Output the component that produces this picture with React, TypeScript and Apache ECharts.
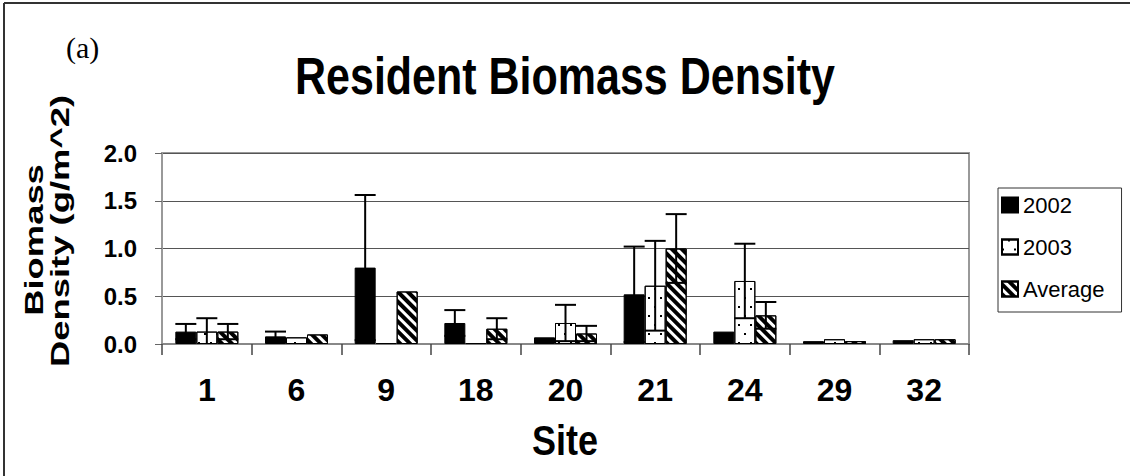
import React, { useEffect, useRef } from "react";
import * as echarts from "echarts";

const sites = ["1", "6", "9", "18", "20", "21", "24", "29", "32"];
const seriesNames = ["2002", "2003", "Average"];
const values2002 = [0.13, 0.08, 0.8, 0.22, 0.07, 0.52, 0.13, 0.03, 0.04];
const errors2002 = [0.08, 0.05, 0.76, 0.135, 0, 0.5, 0, 0, 0];
const values2003 = [0.13, 0.07, 0.01, 0.01, 0.22, 0.61, 0.66, 0.05, 0.05];
const errors2003 = [0.14, 0, 0, 0, 0.19, 0.47, 0.39, 0, 0];
const valuesAvg = [0.13, 0.1, 0.55, 0.16, 0.11, 1.0, 0.3, 0.03, 0.05];
const errorsAvg = [0.08, 0, 0, 0.11, 0.08, 0.36, 0.14, 0, 0];
const yTicks = ["0.0", "0.5", "1.0", "1.5", "2.0"];

const FONT = "'Liberation Sans', Arial, sans-serif";
const BAR_W = 21;

const DOTS = {
  symbol: "rect",
  symbolSize: 1,
  color: "#000",
  backgroundColor: "rgba(0,0,0,0)",
  dashArrayX: [
    [2, 10],
    [0, 6, 2, 4],
  ],
  dashArrayY: [2, 7],
};

const STRIPES = {
  symbol: "rect",
  symbolSize: 1,
  color: "#000",
  backgroundColor: "rgba(0,0,0,0)",
  dashArrayX: [1, 0],
  dashArrayY: [3.5, 2.5],
  rotation: Math.PI / 4,
};

function makeErr(vals: number[], errs: number[], offset: number, name: string) {
  return {
    type: "custom",
    name,
    z: 10,
    data: vals.map((v, i) => [i, v, errs[i]]),
    encode: { x: 0, y: 1 },
    renderItem: (params: any, api: any) => {
      const i = api.value(0);
      const v = api.value(1);
      const e = api.value(2);
      if (!e) return null;
      const top = api.coord([i, v + e]);
      const lowV = Math.max(v - e, 0);
      const low = api.coord([i, lowV]);
      const x = top[0] + offset;
      const half = BAR_W / 2;
      const st = { stroke: "#000", lineWidth: 2 };
      const children: any[] = [
        { type: "line", shape: { x1: x, y1: top[1], x2: x, y2: low[1] }, style: st },
        { type: "line", shape: { x1: x - half, y1: top[1], x2: x + half, y2: top[1] }, style: st },
      ];
      if (v - e > 0) {
        children.push({
          type: "line",
          shape: { x1: x - half, y1: low[1], x2: x + half, y2: low[1] },
          style: st,
        });
      }
      return { type: "group", children };
    },
  };
}

export default function App() {
  const ref = useRef<HTMLDivElement>(null);
  useEffect(() => {
    if (!ref.current) return;
    const chart = echarts.init(ref.current, null, { renderer: "svg" });
    const option: any = {
      animation: false,
      backgroundColor: "#fff",
      grid: {
        left: 162,
        right: 161,
        top: 153,
        bottom: 132,
        show: true,
        borderColor: "#999",
        borderWidth: 2,
        backgroundColor: "rgba(0,0,0,0)",
      },
      legend: {
        data: seriesNames,
        orient: "vertical",
        left: 998,
        top: 188,
        padding: [6, 17, 12, 3],
        itemWidth: 16,
        itemHeight: 15,
        itemGap: 20,
        borderColor: "#333",
        borderWidth: 1,
        selectedMode: false,
        icon: "rect",
        textStyle: { fontFamily: FONT, fontSize: 22, color: "#000", lineHeight: 22 },
      },
      xAxis: {
        type: "category",
        data: sites,
        boundaryGap: true,
        axisLine: { lineStyle: { color: "#888", width: 2 } },
        axisTick: { show: true, length: 11, lineStyle: { color: "#444", width: 1.5 } },
        axisLabel: {
          fontFamily: FONT,
          fontSize: 32,
          fontWeight: "bold",
          color: "#000",
          margin: 30,
        },
        splitLine: { show: false },
      },
      yAxis: {
        type: "value",
        min: 0,
        max: 2,
        interval: 0.5,
        axisLine: { show: true, lineStyle: { color: "#999", width: 2 } },
        axisTick: { show: true, length: 7, lineStyle: { color: "#666", width: 1 } },
        axisLabel: {
          fontFamily: FONT,
          fontSize: 24,
          fontWeight: "bold",
          color: "#000",
          margin: 25,
          formatter: (v: number) => yTicks[Math.round(v / 0.5)] ?? v.toFixed(1),
        },
        splitLine: { show: true, lineStyle: { color: "#555", width: 1 } },
      },
      graphic: [
        { type: "line", shape: { x1: 4, y1: 3, x2: 1130, y2: 3 }, style: { stroke: "#333", lineWidth: 2 } },
        { type: "line", shape: { x1: 4, y1: 3, x2: 4, y2: 476 }, style: { stroke: "#333", lineWidth: 2 } },
        {
          type: "text",
          x: 66,
          y: 47,
          style: {
            text: "(a)",
            font: "30px 'Liberation Serif', 'Times New Roman', serif",
            fill: "#000",
            textAlign: "left",
            textVerticalAlign: "middle",
          },
        },
        {
          type: "text",
          x: 565,
          y: 76.5,
          scaleY: 1.2,
          style: {
            text: "Resident Biomass Density",
            font: `bold 43px ${FONT}`,
            fill: "#000",
            textAlign: "center",
            textVerticalAlign: "middle",
          },
        },
        {
          type: "text",
          x: 565,
          y: 440,
          scaleY: 1.17,
          style: {
            text: "Site",
            font: `bold 36px ${FONT}`,
            fill: "#000",
            textAlign: "center",
            textVerticalAlign: "middle",
          },
        },
        {
          type: "text",
          x: 34,
          y: 240,
          rotation: Math.PI / 2,
          scaleX: 1.4,
          style: {
            text: "Biomass",
            font: `bold 26px ${FONT}`,
            fill: "#000",
            textAlign: "center",
            textVerticalAlign: "middle",
          },
        },
        {
          type: "text",
          x: 60,
          y: 231,
          rotation: Math.PI / 2,
          scaleX: 1.4,
          style: {
            text: "Density (g/m^2)",
            font: `bold 26px ${FONT}`,
            fill: "#000",
            textAlign: "center",
            textVerticalAlign: "middle",
          },
        },
      ],
      series: [
        {
          type: "bar",
          name: "2002",
          data: values2002,
          barWidth: BAR_W,
          barGap: "0%",
          itemStyle: { color: "#000", borderColor: "#000", borderWidth: 1 },
        },
        {
          type: "bar",
          name: "2003",
          data: values2003,
          barWidth: BAR_W,
          barGap: "0%",
          itemStyle: { color: "#fff", borderColor: "#000", borderWidth: 1, decal: DOTS },
        },
        {
          type: "bar",
          name: "Average",
          data: valuesAvg,
          barWidth: BAR_W,
          barGap: "0%",
          itemStyle: { color: "#fff", borderColor: "#000", borderWidth: 1, decal: STRIPES },
        },
        makeErr(values2002, errors2002, -BAR_W, "err2002"),
        makeErr(values2003, errors2003, 0, "err2003"),
        makeErr(valuesAvg, errorsAvg, BAR_W, "errAvg"),
      ],
    };
    chart.setOption(option);
    return () => chart.dispose();
  }, []);
  return (
    <div
      ref={ref}
      style={{ position: "fixed", left: 0, top: 0, width: 1130, height: 476 }}
    />
  );
}
